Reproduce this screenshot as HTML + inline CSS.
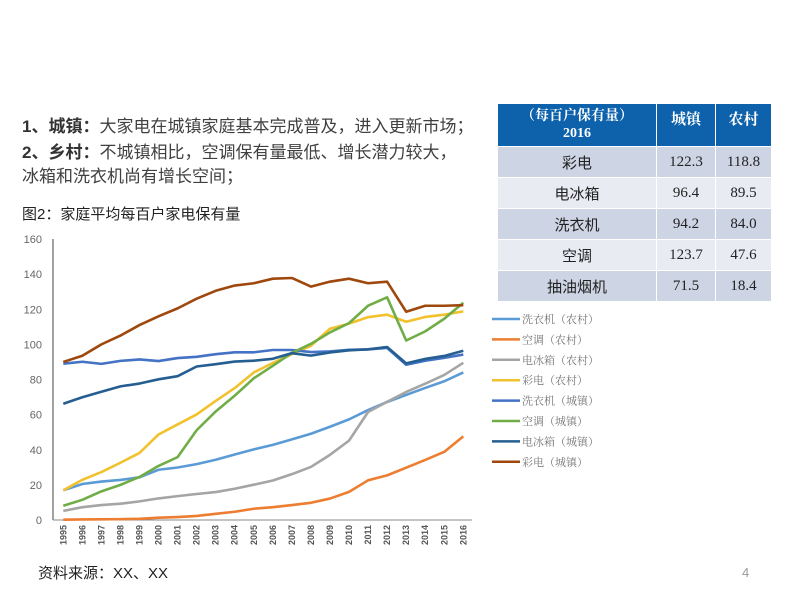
<!DOCTYPE html>
<html><head><meta charset="utf-8">
<style>
body{margin:0;background:#fff;}
#wrap{position:relative;width:800px;height:600px;overflow:hidden;font-family:"Liberation Sans","Noto Sans CJK SC",sans-serif;}
.t{position:absolute;white-space:nowrap;color:#404040;}
table{position:absolute;left:497px;top:103px;border-collapse:collapse;font-family:"Liberation Serif","Noto Serif CJK SC",serif;}
td{text-align:center;border:1px solid #fff;padding:0;font-size:15px;color:#222;}
td.c{font-family:"Liberation Sans","Noto Sans CJK SC",sans-serif;}
</style></head><body>
<div id="wrap">
<div class="t" style="left:22px;top:112px;font-size:17px;"><b style="color:#333">1、城镇：</b>大家电在城镇家庭基本完成普及，进入更新市场；</div>
<div class="t" style="left:22px;top:138px;font-size:17px;"><b style="color:#333">2、乡村：</b>不城镇相比，空调保有量最低、增长潜力较大，</div>
<div class="t" style="left:22px;top:162px;font-size:17px;">冰箱和洗衣机尚有增长空间；</div>
<div class="t" style="left:22px;top:203px;font-size:15px;color:#222">图2：家庭平均每百户家电保有量</div>
<table>
<tr style="background:#0e62ac;height:43px"><td style="width:158px;color:#fff;font-weight:bold;line-height:17px;font-size:14px">（每百户保有量）<br>2016</td><td style="width:58px;color:#fff;font-weight:bold;vertical-align:top;padding-top:4px">城镇</td><td style="width:55px;color:#fff;font-weight:bold;vertical-align:top;padding-top:4px">农村</td></tr>
<tr style="background:#cdd4e4;height:31px"><td class="c">彩电</td><td>122.3</td><td>118.8</td></tr>
<tr style="background:#e8ebf2;height:31px"><td class="c">电冰箱</td><td>96.4</td><td>89.5</td></tr>
<tr style="background:#cdd4e4;height:31px"><td class="c">洗衣机</td><td>94.2</td><td>84.0</td></tr>
<tr style="background:#e8ebf2;height:31px"><td class="c">空调</td><td>123.7</td><td>47.6</td></tr>
<tr style="background:#cdd4e4;height:31px"><td class="c">抽油烟机</td><td>71.5</td><td>18.4</td></tr>
</table>
<svg id="chart" width="800" height="600" style="position:absolute;left:0;top:0"></svg>
<div class="t" style="left:38px;top:562px;font-size:15px;color:#222">资料来源：XX、XX</div>
<div class="t" style="left:742px;top:565px;font-size:13px;color:#999">4</div>
</div>
<script>
const years=[1995,1996,1997,1998,1999,2000,2001,2002,2003,2004,2005,2006,2007,2008,2009,2010,2011,2012,2013,2014,2015,2016];
const yTicks=[0,20,40,60,80,100,120,140,160];
const washerRural=[16.9,20.5,21.9,22.8,24.3,28.6,29.9,31.8,34.3,37.3,40.2,42.8,45.9,49.1,53.1,57.3,62.6,67.2,71.2,75.2,79.0,84.0];
const acRural=[0.2,0.3,0.4,0.5,0.7,1.3,1.7,2.3,3.5,4.7,6.4,7.3,8.5,9.8,12.2,16,22.6,25.4,29.8,34.2,38.8,47.6];
const fridgeRural=[5.2,7.3,8.5,9.3,10.6,12.3,13.6,14.8,15.9,17.8,20.1,22.5,26.1,30.2,37.1,45.2,61.5,67.3,72.9,77.6,82.6,89.5];
const tvRural=[16.9,22.9,27.3,32.6,38.2,48.7,54.4,60.1,67.8,75.1,84,89.4,94.4,99.2,108.9,111.8,115.5,116.9,112.9,115.6,116.9,118.8];
const washerUrban=[89,90.1,88.9,90.6,91.4,90.5,92.2,92.9,94.4,95.5,95.5,96.8,96.8,95.6,96,96.9,97.1,98,88.4,90.7,92.3,94.2];
const acUrban=[8.1,11.5,16.3,20,24.5,30.8,35.8,51.1,61.8,70.8,80.7,87.8,95.1,100.3,106.8,112.1,122,126.8,102.2,107.4,114.6,123.7];
const fridgeUrban=[66.2,69.9,73,76.1,77.7,80.1,81.9,87.4,88.7,90.2,90.7,91.8,95,93.6,95.4,96.6,97.2,98.5,89.2,91.7,93.4,96.4];
const tvUrban=[90,93.5,100,105,111,116,120.5,126,130.5,133.5,134.8,137.4,137.8,132.9,135.7,137.4,134.8,135.7,118.6,122,122,122.3];
const seriesNames=["洗衣机（农村）","空调（农村）","电冰箱（农村）","彩电（农村）","洗衣机（城镇）","空调（城镇）","电冰箱（城镇）","彩电（城镇）"];
const seriesData=[washerRural,acRural,fridgeRural,tvRural,washerUrban,acUrban,fridgeUrban,tvUrban];
const colors=["#5b9bd5","#ed7d31","#a5a5a5","#f2c12e","#4472c4","#70ad47","#255e91","#9e480e"];
const NS="http://www.w3.org/2000/svg";
const svg=document.getElementById('chart');
const x0=63.3,x1=463.3,yb=520,yt=239;
function xs(i){return x0+(x1-x0)*i/(years.length-1);}
function ys(v){return yb-(yb-yt)*v/160;}
function mk(tag,attrs){const e=document.createElementNS(NS,tag);for(const k in attrs)e.setAttribute(k,attrs[k]);svg.appendChild(e);return e;}
let ax=mk('line',{x1:53,y1:yt,x2:53,y2:yb,stroke:'#444','stroke-width':1});


let bx=mk('line',{x1:53,y1:yb,x2:472,y2:yb,stroke:'#888','stroke-width':1});


yTicks.forEach(v=>{
  const t=mk('text',{x:42,y:ys(v)+4,'text-anchor':'end','font-size':11,fill:'#666','font-family':'Liberation Sans, sans-serif'});
  t.textContent=v;
  
  
});
years.forEach((yr,i)=>{
  const t=mk('text',{x:0,y:0,'text-anchor':'end','font-size':9,'font-weight':'bold',fill:'#555','font-family':'Liberation Sans, sans-serif',transform:`translate(${xs(i)+3},${yb+5}) rotate(-90)`});
  t.textContent=yr;
  
  
});
seriesData.forEach((d,s)=>{
  const p=mk('polyline',{points:d.map((v,i)=>xs(i)+','+ys(v)).join(' '),fill:'none',stroke:colors[s],'stroke-width':2.6,'stroke-linejoin':'round'});
  
  
  const ly=319+s*20.4;
  const l=mk('line',{x1:492,y1:ly,x2:520,y2:ly,stroke:colors[s],'stroke-width':2.5});
  
  
  const t=mk('text',{x:522,y:ly+4,'font-size':11,fill:'#777','font-family':'Noto Serif CJK SC, serif'});
  t.textContent=seriesNames[s];
  
  
});
</script>
</body></html>
